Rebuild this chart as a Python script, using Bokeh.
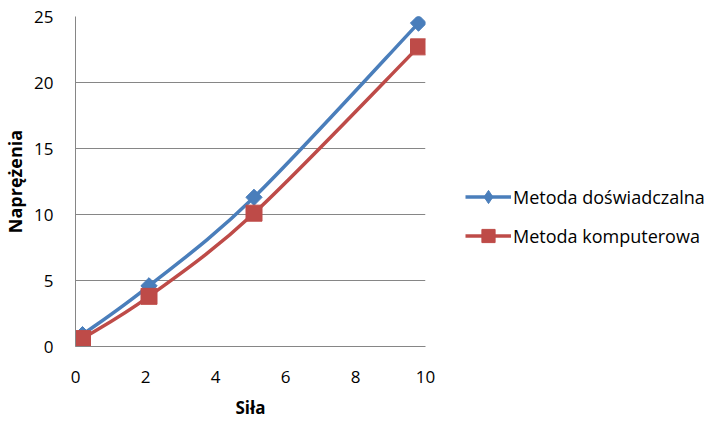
import numpy as np
from bokeh.plotting import figure
from bokeh.models import Range1d, Legend, LegendItem, FixedTicker
from bokeh.embed import file_html
from bokeh.resources import INLINE

# Data
sila = [0.2, 2.1, 5.1, 9.8]
doswiadczalna = [0.9, 4.6, 11.3, 24.5]
komputerowa = [0.6, 3.8, 10.1, 22.7]
x_ticks = [0, 2, 4, 6, 8, 10]
y_ticks = [0, 5, 10, 15, 20, 25]
series_names = ["Metoda doświadczalna", "Metoda komputerowa"]

BLUE = "#4A7EBB"
RED = "#BE4B48"
GRID = "#868686"
FONT = "Open Sans"

p = figure(frame_width=350, frame_height=330, output_backend="svg", toolbar_location=None,
           x_range=Range1d(0, 10), y_range=Range1d(0, 25))
p.min_border_left = 67
p.min_border_top = 16
p.min_border_bottom = 68
p.min_border_right = 281
p.outline_line_color = None
p.background_fill_color = "white"
p.border_fill_color = "white"

p.xgrid.grid_line_color = None
p.ygrid.grid_line_color = GRID
p.ygrid.grid_line_width = 1

for ax in (p.xaxis[0], p.yaxis[0]):
    ax.axis_line_color = GRID
    ax.major_tick_line_color = None
    ax.minor_tick_line_color = None
    ax.major_label_text_font = FONT
    ax.major_label_text_font_size = "17px"
    ax.major_label_text_color = "black"
    ax.axis_label_text_font = FONT
    ax.axis_label_text_font_style = "bold"
    ax.axis_label_text_color = "black"

p.xaxis.axis_label_text_font_size = "17px"
p.yaxis.axis_label_text_font_size = "18px"
p.xaxis.ticker = FixedTicker(ticks=x_ticks)
p.yaxis.ticker = FixedTicker(ticks=y_ticks)
p.xaxis.axis_label = "Siła"
p.yaxis.axis_label = "Naprężenia"
p.xaxis.major_label_standoff = 18
p.yaxis.major_label_standoff = 16
p.xaxis.axis_label_standoff = 10
p.yaxis.axis_label_standoff = 4


def bezier_segments(xs, ys):
    pts = np.column_stack([xs, ys]).astype(float)
    n = len(pts)
    segs = {k: [] for k in ("x0", "y0", "x1", "y1", "cx0", "cy0", "cx1", "cy1")}
    for i in range(n - 1):
        pm = pts[i - 1] if i > 0 else pts[i]
        pp = pts[i + 2] if i + 2 < n else pts[i + 1]
        c0 = pts[i] + (pts[i + 1] - pm) / 6.0
        c1 = pts[i + 1] - (pp - pts[i]) / 6.0
        segs["x0"].append(pts[i][0]); segs["y0"].append(pts[i][1])
        segs["x1"].append(pts[i + 1][0]); segs["y1"].append(pts[i + 1][1])
        segs["cx0"].append(c0[0]); segs["cy0"].append(c0[1])
        segs["cx1"].append(c1[0]); segs["cy1"].append(c1[1])
    return segs


items = []

# Series 1: blue, diamond markers (rotated squares in the plot)
s = bezier_segments(sila, doswiadczalna)
b1 = p.bezier(x0=s["x0"], y0=s["y0"], x1=s["x1"], y1=s["y1"],
              cx0=s["cx0"], cy0=s["cy0"], cx1=s["cx1"], cy1=s["cy1"],
              line_color=BLUE, line_width=3.5)
p.scatter(sila, doswiadczalna, marker="square", angle=np.pi / 4, size=11.5,
          fill_color=BLUE, line_color=BLUE)
d1 = p.scatter(sila, doswiadczalna, marker="diamond", size=15,
               fill_color=BLUE, line_color=BLUE)
items.append(LegendItem(label=series_names[0], renderers=[b1, d1]))

# Series 2: red, square markers
s = bezier_segments(sila, komputerowa)
b2 = p.bezier(x0=s["x0"], y0=s["y0"], x1=s["x1"], y1=s["y1"],
              cx0=s["cx0"], cy0=s["cy0"], cx1=s["cx1"], cy1=s["cy1"],
              line_color=RED, line_width=3.5)
m2 = p.scatter(sila, komputerowa, marker="square", size=16,
               fill_color=RED, line_color=RED)
items.append(LegendItem(label=series_names[1], renderers=[b2, m2]))

legend = Legend(items=items, location=(40, 94), orientation="vertical")
legend.border_line_color = None
legend.background_fill_alpha = 0
legend.label_text_font = FONT
legend.label_text_font_size = "18px"
legend.label_text_color = "black"
legend.glyph_width = 46
legend.glyph_height = 33
legend.spacing = 6
legend.label_standoff = 2
legend.padding = 0
legend.margin = 0
p.add_layout(legend, "right")

open("out.html", "w").write(file_html(p, INLINE))
